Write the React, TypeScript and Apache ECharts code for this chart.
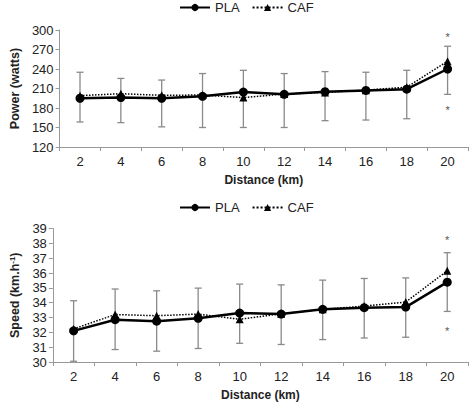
import React, { useEffect, useRef } from "react";
import * as echarts from "echarts";

const distance = ["2", "4", "6", "8", "10", "12", "14", "16", "18", "20"];
const powerPLA = [195, 196, 195, 198, 204.5, 201, 205, 207, 209, 240];
const powerCAF = [199, 202, 199.5, 200, 196, 201.5, 204, 207.5, 212, 252];
const powerErrHigh = [235, 225.5, 223, 233, 238, 233, 236, 235, 238, 275];
const powerErrLow = [158.5, 157.5, 151, 150, 150, 150, 160.5, 161.5, 163.5, 201];
const powerStars = [294, 181];
const speedPLA = [32.1, 32.85, 32.75, 32.95, 33.3, 33.23, 33.55, 33.66, 33.7, 35.38];
const speedCAF = [32.23, 33.2, 33.12, 33.23, 32.88, 33.25, 33.55, 33.77, 34.04, 36.15];
const speedErrHigh = [34.13, 34.92, 34.8, 34.98, 35.25, 35.2, 35.52, 35.63, 35.67, 37.37];
const speedErrLow = [30.05, 30.84, 30.73, 30.91, 31.26, 31.18, 31.51, 31.62, 31.67, 33.41];
const speedStars = [38.4, 32.3];
const starCategoryIndex = 9;

const FONT = "'Liberation Sans', Arial, sans-serif";

function errorSeries(low: number[], high: number[], axisIndex: number) {
  return {
    type: "custom",
    xAxisIndex: axisIndex,
    yAxisIndex: axisIndex,
    z: 1,
    silent: true,
    encode: { x: 0, y: [1, 2] },
    data: low.map((l, i) => [i, l, high[i]]),
    renderItem: (params: any, api: any) => {
      const idx = api.value(0);
      const lo = api.coord([idx, api.value(1)]);
      const hi = api.coord([idx, api.value(2)]);
      const w = 3.5;
      const style = { stroke: "#8a8a8a", lineWidth: 1.3 };
      return {
        type: "group",
        children: [
          { type: "line", shape: { x1: lo[0], y1: lo[1], x2: hi[0], y2: hi[1] }, style },
          { type: "line", shape: { x1: hi[0] - w, y1: hi[1], x2: hi[0] + w, y2: hi[1] }, style },
          { type: "line", shape: { x1: lo[0] - w, y1: lo[1], x2: lo[0] + w, y2: lo[1] }, style },
        ],
      };
    },
  };
}

function lineSeries(name: string, data: number[], axisIndex: number, solid: boolean) {
  return {
    name,
    type: "line",
    xAxisIndex: axisIndex,
    yAxisIndex: axisIndex,
    data,
    z: solid ? 4 : 3,
    symbol: solid ? "circle" : "triangle",
    symbolSize: solid ? 9 : 8,
    showSymbol: true,
    lineStyle: { color: "#000", width: solid ? 2.5 : 1.5, type: solid ? "solid" : "dotted" },
    itemStyle: { color: "#000" },
  };
}

function starSeries(values: number[], axisIndex: number) {
  return {
    type: "custom",
    xAxisIndex: axisIndex,
    yAxisIndex: axisIndex,
    silent: true,
    z: 5,
    encode: { x: 0, y: 1 },
    data: values.map((v) => [starCategoryIndex, v]),
    renderItem: (params: any, api: any) => {
      const p = api.coord([api.value(0), api.value(1)]);
      return {
        type: "text",
        x: p[0],
        y: p[1] + 3,
        style: {
          text: "*",
          fill: "#555555",
          font: `11px ${FONT}`,
          align: "center",
          verticalAlign: "middle",
        },
      };
    },
  };
}

function xAxis(gridIndex: number) {
  return {
    type: "category",
    gridIndex,
    data: distance,
    boundaryGap: true,
    name: "Distance (km)",
    nameLocation: "middle",
    nameGap: 27,
    nameTextStyle: { fontFamily: FONT, fontSize: 12, fontWeight: "bold", color: "#222" },
    axisLine: { show: true, lineStyle: { color: "#999", width: 1 } },
    axisTick: { show: true, length: 4, lineStyle: { color: "#999" } },
    axisLabel: { fontFamily: FONT, fontSize: 13, color: "#222", margin: 8 },
    splitLine: { show: false },
  };
}

function yAxis(gridIndex: number, min: number, max: number, interval: number, name: string, rich?: any) {
  return {
    type: "value",
    gridIndex,
    min,
    max,
    interval,
    name,
    nameLocation: "middle",
    nameGap: 29,
    nameTextStyle: { fontFamily: FONT, fontSize: 12.5, fontWeight: "bold", color: "#222", rich },
    axisLine: { show: true, lineStyle: { color: "#999", width: 1 } },
    axisTick: { show: true, length: 4, lineStyle: { color: "#999" } },
    axisLabel: { fontFamily: FONT, fontSize: 13, color: "#222", margin: 6 },
    splitLine: { show: false },
  };
}

export default function App() {
  const ref = useRef<HTMLDivElement>(null);
  useEffect(() => {
    if (!ref.current) return;
    const chart = echarts.init(ref.current, undefined, { renderer: "svg" });
    const legendBase = {
      data: ["PLA", "CAF"],
      itemWidth: 30,
      itemHeight: 9,
      itemGap: 12,
      textStyle: { fontFamily: FONT, fontSize: 13, color: "#222" },
      left: 174,
    };
    chart.setOption({
      animation: false,
      backgroundColor: "#fff",
      legend: [
        { ...legendBase, top: -4 },
        { ...legendBase, top: 196 },
      ],
      grid: [
        { left: 43, right: 4, top: 30, height: 117 },
        { left: 43, right: 4, top: 228.5, height: 134 },
      ],
      xAxis: [xAxis(0), xAxis(1)],
      yAxis: [
        yAxis(0, 120, 300, 30, "Power (watts)"),
        yAxis(1, 30, 39, 1, "Speed (km.h{sup|-1})", {
          sup: { fontFamily: FONT, fontSize: 8, fontWeight: "bold", color: "#222", verticalAlign: "top", padding: [0, 0, 6, 0] },
        }),
      ],
      series: [
        errorSeries(powerErrLow, powerErrHigh, 0),
        lineSeries("CAF", powerCAF, 0, false),
        lineSeries("PLA", powerPLA, 0, true),
        starSeries(powerStars, 0),
        errorSeries(speedErrLow, speedErrHigh, 1),
        lineSeries("CAF", speedCAF, 1, false),
        lineSeries("PLA", speedPLA, 1, true),
        starSeries(speedStars, 1),
      ],
    });
    return () => chart.dispose();
  }, []);
  return (
    <div
      ref={ref}
      style={{ position: "fixed", left: 0, top: 0, width: 472, height: 402, background: "#fff" }}
    />
  );
}
